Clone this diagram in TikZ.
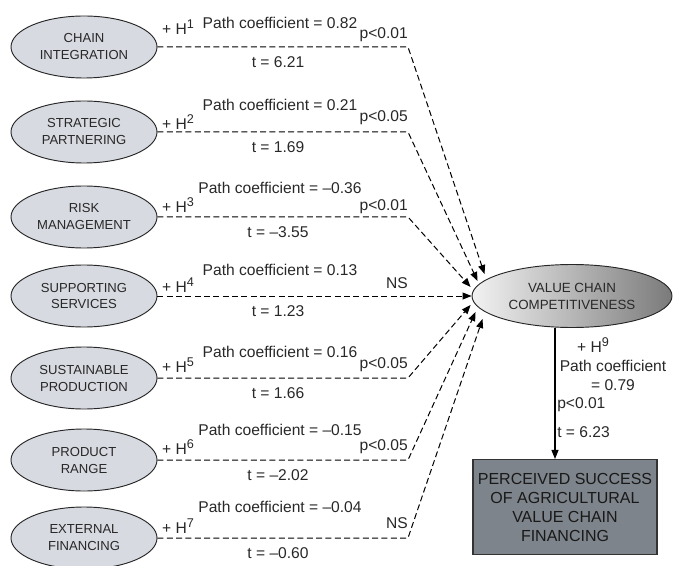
\documentclass[tikz,border=0pt]{standalone}
\usepackage{fontspec}
\setmainfont{Liberation Sans}
\usetikzlibrary{arrows.meta,shapes.geometric}
\definecolor{ellfill}{RGB}{215,218,225}
\definecolor{boxfill}{RGB}{126,132,139}
\definecolor{ink}{RGB}{40,40,40}
\newcommand{\hsup}[1]{H\raisebox{0.42em}{\fontsize{9.5}{9.5}\selectfont #1}}

\begin{document}
\begin{tikzpicture}[x=0.75pt,y=-0.75pt,
  factor/.style={ellipse,draw=black!85,fill=ellfill,line width=0.7pt,minimum width=109.5pt,minimum height=46.5pt,inner sep=0pt,align=center,text=ink,font=\fontsize{9.8}{12.75}\selectfont},
  result/.style={ellipse,draw=black!85,left color=black!5,right color=black!52,line width=0.7pt,minimum width=150pt,minimum height=47.25pt,inner sep=0pt,align=center,text=ink,font=\fontsize{10}{12.75}\selectfont},
  outcome/.style={rectangle,draw=black!80,fill=boxfill,line width=0.8pt,minimum width=138pt,minimum height=71.25pt,inner sep=0pt,align=center,text=black!90,font=\fontsize{12}{14.25}\selectfont},
  lab/.style={inner sep=0pt,text=ink,font=\fontsize{11.7}{14.25}\selectfont},
  hyp/.style={line width=0.75pt,dash pattern=on 4.5pt off 2.5pt,-{Triangle[length=6.75pt,width=5.25pt]}},
  lead/.style={line width=0.8pt,-{Triangle[length=6.75pt,width=5.25pt]}}]
\useasboundingbox (0,0) rectangle (673,566);
\node[result] (vcc) at (572,296) {VALUE CHAIN\\COMPETITIVENESS};
\node[outcome] (out) at (565,507) {PERCEIVED SUCCESS\\OF AGRICULTURAL\\VALUE CHAIN\\FINANCING};
\foreach \n/\y/\name/\pc/\sig/\tv/\hy/\cy/\sy/\dx/\dy in {
  1/47/{CHAIN\\INTEGRATION}/0.82/p<0.01/6.21/20/24/12/13/-22,
  2/132/{STRATEGIC\\PARTNERING}/0.21/p<0.05/1.69/10/27/14/6/-15,
  3/217/{RISK\\MANAGEMENT}/--0.36/p<0.01/--3.55/12/29/10/-1/-9,
  4/296/{SUPPORTING\\SERVICES}/0.13/NS/1.23/11/26/13/0/0,
  5/378/{SUSTAINABLE\\PRODUCTION}/0.16/p<0.05/1.66/13/26/13/-1/9,
  6/460/{PRODUCT\\RANGE}/--0.15/p<0.05/--2.02/13/30/13/4/16,
  7/538/{EXTERNAL\\FINANCING}/--0.04/NS/--0.60/12/31/15/11/23}{
  \node[factor] (f\n) at (84,\y) {\name};
  \coordinate (b\n) at (408,\y);
  \coordinate (in\n) at ([shift={(\dx,\dy)}]vcc.west);
  \draw[hyp] (f\n.east) -- (b\n) -- (in\n);
  \node[lab] (h\n) at (178,\y-\hy) {+ \hsup{\n}};
  \node[lab] (c\n) at (280,\y-\cy) {Path coefficient = \pc};
  \node[lab,anchor=east] (s\n) at (408,\y-\sy) {\sig};
  \node[lab] (t\n) at (278,\y+15) {t = \tv};
}
\coordinate (ax) at (555,0);
\draw[lead] (vcc.south -| ax) -- (out.north -| ax);
\node[lab] (h9) at (593,345) {+ \hsup{9}};
\node[lab,align=center] (c9) at (613,375) {Path coefficient\\= 0.79};
\node[lab,anchor=west] (s9) at (557,405) {p<0.01};
\node[lab,anchor=west] (t9) at (557,432) {t = 6.23};
\end{tikzpicture}
\end{document}
